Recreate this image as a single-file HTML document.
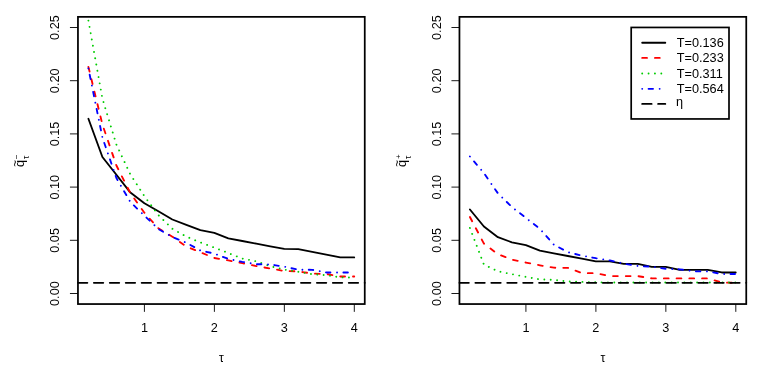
<!DOCTYPE html>
<html>
<head>
<meta charset="utf-8">
<title>q tilde vs tau</title>
<style>
html,body{margin:0;padding:0;background:#fff;}
body{width:763px;height:382px;overflow:hidden;}
svg{display:block;will-change:transform;}
svg text{font-family:"Liberation Sans",sans-serif;fill:#000;filter:grayscale(1);}
</style>
</head>
<body>
<svg width="763" height="382" viewBox="0 0 763 382">
<rect x="0" y="0" width="763" height="382" fill="#fff"/>
<g>
<polyline fill="none" stroke-linecap="round" stroke-linejoin="round" stroke="#000" stroke-width="1.85" points="88.42,118.80 102.41,157.00 116.40,174.80 130.39,192.60 144.38,203.30 158.37,211.30 172.36,219.50 186.35,224.80 200.34,230.20 214.33,232.90 228.32,238.30 242.31,241.00 256.30,243.70 270.29,246.30 284.28,248.90 298.27,249.05 312.26,251.80 326.25,254.60 340.24,257.40 354.23,257.40"/>
<polyline fill="none" stroke-linecap="round" stroke-linejoin="round" stroke="#ff0000" stroke-width="1.85" stroke-dasharray="4.8 7.95" points="88.42,66.90 102.41,124.50 116.40,165.50 130.39,193.20 144.38,212.70 158.37,228.30 172.36,236.70 186.35,246.50 200.34,252.30 214.33,258.00 228.32,260.40 242.31,263.20 256.30,266.10 270.29,268.50 284.28,271.00 298.27,271.40 312.26,273.60 326.25,274.00 340.24,276.50 354.23,276.50"/>
<polyline fill="none" stroke-linecap="round" stroke-linejoin="round" stroke="#00cd00" stroke-width="1.9" stroke-dasharray="0.01 6.36" points="88.42,20.65 102.41,98.60 116.40,144.60 130.39,174.50 144.38,196.10 158.37,215.10 172.36,228.80 186.35,236.60 200.34,242.40 214.33,247.60 228.32,253.00 242.31,258.60 256.30,261.30 270.29,266.20 284.28,269.60 298.27,271.80 312.26,274.20 326.25,275.20 340.24,277.40 354.23,277.50"/>
<polyline fill="none" stroke-linecap="round" stroke-linejoin="round" stroke="#0000ff" stroke-width="1.85" stroke-dasharray="0.01 6.34 4.5 6.6" points="88.42,68.50 102.41,137.50 116.40,178.00 130.39,202.10 144.38,215.60 158.37,229.00 172.36,237.00 186.35,242.70 200.34,250.50 214.33,253.60 228.32,258.90 242.31,261.90 256.30,264.20 270.29,264.40 284.28,266.70 298.27,269.70 312.26,269.80 326.25,272.45 340.24,272.45 354.23,272.45"/>
<line x1="77.95" y1="282.85" x2="364.75" y2="282.85" stroke-linecap="round" stroke="#000" stroke-width="1.85" stroke-dasharray="9.4 6.53"/>
<rect x="77.95" y="16.86" width="286.80" height="287.19" fill="none" stroke="#000" stroke-width="1.75"/>
<line x1="69.95" y1="293.50" x2="77.95" y2="293.50" stroke="#000" stroke-width="0.9"/>
<text transform="translate(59.00,293.60) rotate(-90)" text-anchor="middle" font-size="12.7">0.00</text>
<line x1="69.95" y1="240.30" x2="77.95" y2="240.30" stroke="#000" stroke-width="0.9"/>
<text transform="translate(59.00,240.40) rotate(-90)" text-anchor="middle" font-size="12.7">0.05</text>
<line x1="69.95" y1="187.10" x2="77.95" y2="187.10" stroke="#000" stroke-width="0.9"/>
<text transform="translate(59.00,187.20) rotate(-90)" text-anchor="middle" font-size="12.7">0.10</text>
<line x1="69.95" y1="133.90" x2="77.95" y2="133.90" stroke="#000" stroke-width="0.9"/>
<text transform="translate(59.00,134.00) rotate(-90)" text-anchor="middle" font-size="12.7">0.15</text>
<line x1="69.95" y1="80.70" x2="77.95" y2="80.70" stroke="#000" stroke-width="0.9"/>
<text transform="translate(59.00,80.80) rotate(-90)" text-anchor="middle" font-size="12.7">0.20</text>
<line x1="69.95" y1="27.50" x2="77.95" y2="27.50" stroke="#000" stroke-width="0.9"/>
<text transform="translate(59.00,27.60) rotate(-90)" text-anchor="middle" font-size="12.7">0.25</text>
<line x1="144.42" y1="304.05" x2="144.42" y2="311.85" stroke="#000" stroke-width="0.9"/>
<text x="144.42" y="331.8" text-anchor="middle" font-size="12.7">1</text>
<line x1="214.40" y1="304.05" x2="214.40" y2="311.85" stroke="#000" stroke-width="0.9"/>
<text x="214.40" y="331.8" text-anchor="middle" font-size="12.7">2</text>
<line x1="284.35" y1="304.05" x2="284.35" y2="311.85" stroke="#000" stroke-width="0.9"/>
<text x="284.35" y="331.8" text-anchor="middle" font-size="12.7">3</text>
<line x1="354.30" y1="304.05" x2="354.30" y2="311.85" stroke="#000" stroke-width="0.9"/>
<text x="354.30" y="331.8" text-anchor="middle" font-size="12.7">4</text>
<text x="221.50" y="362.1" text-anchor="middle" font-size="12.2">&#964;</text>
<g transform="translate(24.30,167.0) rotate(-90)">
<text x="0" y="0" font-size="12.7">q</text>
<text x="0.3" y="-5.3" font-size="11.5">~</text>
<text x="7.8" y="-5.2" font-size="8.4">&#8722;</text>
<text x="8.0" y="4.7" font-size="8.5">&#964;</text>
</g>
</g>
<g>
<polyline fill="none" stroke-linecap="round" stroke-linejoin="round" stroke="#000" stroke-width="1.85" points="469.92,209.50 483.91,226.50 497.90,237.20 511.89,242.30 525.88,245.10 539.87,250.70 553.86,253.40 567.85,256.00 581.84,258.70 595.83,261.40 609.82,261.40 623.81,263.90 637.80,263.90 651.79,266.80 665.78,266.80 679.77,269.80 693.76,269.80 707.75,269.80 721.74,272.45 735.73,272.45"/>
<polyline fill="none" stroke-linecap="round" stroke-linejoin="round" stroke="#ff0000" stroke-width="1.85" stroke-dasharray="4.8 7.95" points="469.92,217.00 483.91,243.60 497.90,254.20 511.89,259.60 525.88,262.60 539.87,265.30 553.86,267.70 567.85,267.90 581.84,273.10 595.83,273.20 609.82,276.10 623.81,276.10 637.80,276.10 651.79,278.40 665.78,278.40 679.77,278.40 693.76,278.40 707.75,278.40 721.74,282.50 735.73,282.80"/>
<polyline fill="none" stroke-linecap="round" stroke-linejoin="round" stroke="#00cd00" stroke-width="1.9" stroke-dasharray="0.01 6.36" points="469.92,228.00 483.91,264.60 497.90,271.30 511.89,274.15 525.88,276.90 539.87,279.40 553.86,279.90 567.85,281.50 581.84,281.90 595.83,282.30 609.82,282.50 623.81,282.50 637.80,282.50 651.79,282.50 665.78,282.50 679.77,282.50 693.76,282.50 707.75,282.50 721.74,282.50 735.73,282.50"/>
<polyline fill="none" stroke-linecap="round" stroke-linejoin="round" stroke="#0000ff" stroke-width="1.85" stroke-dasharray="0.01 6.34 4.5 6.6" points="469.92,156.50 483.91,173.10 497.90,193.30 511.89,207.00 525.88,217.90 539.87,228.80 553.86,244.70 567.85,252.20 581.84,255.60 595.83,258.20 609.82,260.40 623.81,263.60 637.80,266.00 651.79,266.70 665.78,268.80 679.77,269.30 693.76,271.30 707.75,271.45 721.74,274.00 735.73,274.00"/>
<line x1="459.45" y1="282.85" x2="746.25" y2="282.85" stroke-linecap="round" stroke="#000" stroke-width="1.85" stroke-dasharray="9.4 6.53"/>
<rect x="459.45" y="16.86" width="286.80" height="287.19" fill="none" stroke="#000" stroke-width="1.75"/>
<line x1="451.45" y1="293.50" x2="459.45" y2="293.50" stroke="#000" stroke-width="0.9"/>
<text transform="translate(440.50,293.60) rotate(-90)" text-anchor="middle" font-size="12.7">0.00</text>
<line x1="451.45" y1="240.30" x2="459.45" y2="240.30" stroke="#000" stroke-width="0.9"/>
<text transform="translate(440.50,240.40) rotate(-90)" text-anchor="middle" font-size="12.7">0.05</text>
<line x1="451.45" y1="187.10" x2="459.45" y2="187.10" stroke="#000" stroke-width="0.9"/>
<text transform="translate(440.50,187.20) rotate(-90)" text-anchor="middle" font-size="12.7">0.10</text>
<line x1="451.45" y1="133.90" x2="459.45" y2="133.90" stroke="#000" stroke-width="0.9"/>
<text transform="translate(440.50,134.00) rotate(-90)" text-anchor="middle" font-size="12.7">0.15</text>
<line x1="451.45" y1="80.70" x2="459.45" y2="80.70" stroke="#000" stroke-width="0.9"/>
<text transform="translate(440.50,80.80) rotate(-90)" text-anchor="middle" font-size="12.7">0.20</text>
<line x1="451.45" y1="27.50" x2="459.45" y2="27.50" stroke="#000" stroke-width="0.9"/>
<text transform="translate(440.50,27.60) rotate(-90)" text-anchor="middle" font-size="12.7">0.25</text>
<line x1="525.92" y1="304.05" x2="525.92" y2="311.85" stroke="#000" stroke-width="0.9"/>
<text x="525.92" y="331.8" text-anchor="middle" font-size="12.7">1</text>
<line x1="595.90" y1="304.05" x2="595.90" y2="311.85" stroke="#000" stroke-width="0.9"/>
<text x="595.90" y="331.8" text-anchor="middle" font-size="12.7">2</text>
<line x1="665.85" y1="304.05" x2="665.85" y2="311.85" stroke="#000" stroke-width="0.9"/>
<text x="665.85" y="331.8" text-anchor="middle" font-size="12.7">3</text>
<line x1="735.80" y1="304.05" x2="735.80" y2="311.85" stroke="#000" stroke-width="0.9"/>
<text x="735.80" y="331.8" text-anchor="middle" font-size="12.7">4</text>
<text x="603.00" y="362.1" text-anchor="middle" font-size="12.2">&#964;</text>
<g transform="translate(405.80,167.0) rotate(-90)">
<text x="0" y="0" font-size="12.7">q</text>
<text x="0.3" y="-5.3" font-size="11.5">~</text>
<text x="7.9" y="-5.0" font-size="8.0">+</text>
<text x="8.0" y="4.7" font-size="8.5">&#964;</text>
</g>
</g>
<rect x="631.2" y="27.45" width="97.8" height="91.5" fill="#fff" stroke="#000" stroke-width="1.7"/>
<line x1="642.2" y1="42.70" x2="665.3" y2="42.70" stroke-linecap="round" stroke="#000" stroke-width="1.85"/>
<line x1="642.2" y1="57.90" x2="665.3" y2="57.90" stroke-linecap="round" stroke="#ff0000" stroke-width="1.85" stroke-dasharray="4.8 7.95"/>
<line x1="642.2" y1="73.50" x2="665.3" y2="73.50" stroke-linecap="round" stroke="#00cd00" stroke-width="1.9" stroke-dasharray="0.01 6.36"/>
<line x1="642.2" y1="88.80" x2="665.3" y2="88.80" stroke-linecap="round" stroke="#0000ff" stroke-width="1.85" stroke-dasharray="0.01 6.34 4.5 6.6"/>
<line x1="642.2" y1="103.90" x2="665.3" y2="103.90" stroke-linecap="round" stroke="#000" stroke-width="1.85" stroke-dasharray="9.4 6.53"/>
<text x="676.8" y="47.10" font-size="12.7">T=0.136</text>
<text x="676.8" y="62.30" font-size="12.7">T=0.233</text>
<text x="676.8" y="77.90" font-size="12.7">T=0.311</text>
<text x="676.8" y="93.20" font-size="12.7">T=0.564</text>
<text x="676.1" y="106.3" font-size="12.7">&#951;</text>
</svg>
</body>
</html>
